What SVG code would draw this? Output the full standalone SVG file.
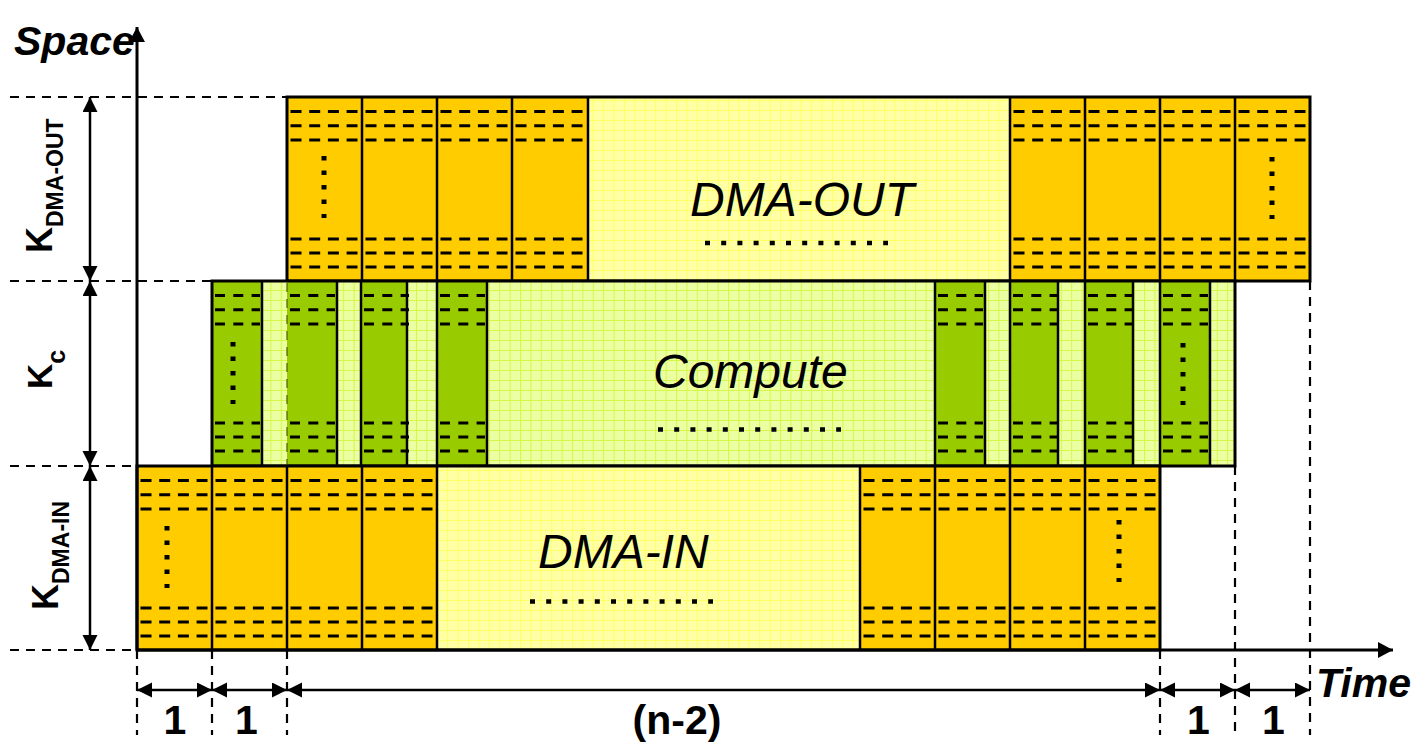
<svg xmlns="http://www.w3.org/2000/svg" width="1418" height="743" viewBox="0 0 1418 743">
<style>
.bg{fill:#FFFFFF}
.org{fill:#FFCC00}
.grn{fill:#99CC00}
.ly{fill:url(#gy)}
.lg{fill:url(#gg)}
.bd{fill:none;stroke:#000;stroke-width:3}
.dv{stroke:#000;stroke-width:2.5}
.dash{stroke:#000;stroke-width:3;stroke-dasharray:11 7.7}
.dashg{stroke:#000;stroke-width:3;stroke-dasharray:10 8.3}
.vdots{stroke:#000;stroke-width:5;stroke-dasharray:4.5 10}
.hdots{stroke:#000;stroke-width:4.5;stroke-dasharray:5 11.2}
.guide{stroke:#000;stroke-width:2.2;stroke-dasharray:9 7;fill:none}
.axis{stroke:#000;stroke-width:3;fill:none}
.dim{stroke:#000;stroke-width:2.5;fill:none;marker-start:url(#ah);marker-end:url(#ah)}
.big{font-family:"Liberation Sans",Arial,sans-serif;font-style:italic;font-size:48px;fill:#000}
.ax{font-family:"Liberation Sans",Arial,sans-serif;font-style:italic;font-weight:bold;font-size:41px;fill:#000}
.lbl{font-family:"Liberation Sans",Arial,sans-serif;font-weight:bold;fill:#000}
</style>
<defs>
<pattern id="gy" width="10.4" height="10" patternUnits="userSpaceOnUse">
<rect width="10.4" height="10" fill="#FFFFA6"/>
<path d="M0 0.5H10.4M0.5 0V10" stroke="#FFFF66" stroke-width="1"/>
</pattern>
<pattern id="gg" width="10.4" height="10" patternUnits="userSpaceOnUse">
<rect width="10.4" height="10" fill="#EBFFA3"/>
<path d="M0 0.5H10.4M0.5 0V10" stroke="#D8F64A" stroke-width="1"/>
</pattern>
<marker id="ah" markerUnits="userSpaceOnUse" markerWidth="16" markerHeight="16" refX="15" refY="7.5" orient="auto-start-reverse">
<path d="M0,0 L15,7.5 L0,15 Z" fill="#000"/>
</marker>
<marker id="axh" markerUnits="userSpaceOnUse" markerWidth="17" markerHeight="17" refX="15" refY="8" orient="auto">
<path d="M0,0 L15,8 L0,16 Z" fill="#000"/>
</marker>
<g id="do">
<line class="dash" x1="0" x2="67" y1="14.5" y2="14.5"/>
<line class="dash" x1="0" x2="67" y1="28.75" y2="28.75"/>
<line class="dash" x1="0" x2="67" y1="43" y2="43"/>
<line class="dash" x1="0" x2="67" y1="142" y2="142"/>
<line class="dash" x1="0" x2="67" y1="156" y2="156"/>
<line class="dash" x1="0" x2="67" y1="170" y2="170"/>
</g>
<g id="dg">
<line class="dashg" x1="0" x2="45" y1="14.5" y2="14.5"/>
<line class="dashg" x1="0" x2="45" y1="28.75" y2="28.75"/>
<line class="dashg" x1="0" x2="45" y1="43" y2="43"/>
<line class="dashg" x1="0" x2="45" y1="142" y2="142"/>
<line class="dashg" x1="0" x2="45" y1="156" y2="156"/>
<line class="dashg" x1="0" x2="45" y1="170" y2="170"/>
</g>
<line id="vd" class="vdots" x1="0" y1="0" x2="0" y2="62"/>
</defs>
<rect class="bg" x="0" y="0" width="1418" height="743"/>

<g id="guides">
<line class="guide" x1="10" y1="97" x2="287" y2="97"/>
<line class="guide" x1="10" y1="281" x2="212" y2="281"/>
<line class="guide" x1="10" y1="466" x2="137" y2="466"/>
<line class="guide" x1="10" y1="650" x2="137" y2="650"/>
<line class="guide" x1="137" y1="650" x2="137" y2="735"/>
<line class="guide" x1="212" y1="650" x2="212" y2="735"/>
<line class="guide" x1="287" y1="650" x2="287" y2="735"/>
<line class="guide" x1="1160" y1="650" x2="1160" y2="735"/>
<line class="guide" x1="1235" y1="466" x2="1235" y2="735"/>
<line class="guide" x1="1310" y1="281" x2="1310" y2="735"/>
</g>

<g id="dma-out">
<rect class="org" x="287" y="97" width="301" height="184"/>
<rect class="org" x="1010" y="97" width="300" height="184"/>
<rect class="ly" x="588" y="97" width="422" height="184"/>
<use href="#do" x="290.5" y="97"/>
<use href="#do" x="365.5" y="97"/>
<use href="#do" x="440.5" y="97"/>
<use href="#do" x="515.5" y="97"/>
<use href="#do" x="1013.5" y="97"/>
<use href="#do" x="1088.5" y="97"/>
<use href="#do" x="1163.5" y="97"/>
<use href="#do" x="1238.5" y="97"/>
<use href="#vd" x="324" y="156"/>
<use href="#vd" x="1272" y="157"/>
<line class="dv" x1="362" y1="97" x2="362" y2="281"/>
<line class="dv" x1="437" y1="97" x2="437" y2="281"/>
<line class="dv" x1="512" y1="97" x2="512" y2="281"/>
<line class="dv" x1="588" y1="97" x2="588" y2="281"/>
<line class="dv" x1="1010" y1="97" x2="1010" y2="281"/>
<line class="dv" x1="1085" y1="97" x2="1085" y2="281"/>
<line class="dv" x1="1160" y1="97" x2="1160" y2="281"/>
<line class="dv" x1="1235" y1="97" x2="1235" y2="281"/>
<rect class="bd" x="287" y="97" width="1023" height="184"/>
<text class="big" x="690" y="215.5">DMA-OUT</text>
<line class="hdots" x1="705" y1="243" x2="888" y2="243"/>
</g>

<g id="compute">
<rect class="lg" x="212" y="281" width="1023" height="185"/>
<rect class="grn" x="212" y="281" width="50" height="185"/>
<rect class="grn" x="287" y="281" width="50" height="185"/>
<rect class="grn" x="361" y="281" width="46" height="185"/>
<rect class="grn" x="437" y="281" width="50" height="185"/>
<rect class="grn" x="935" y="281" width="50" height="185"/>
<rect class="grn" x="1010" y="281" width="48" height="185"/>
<rect class="grn" x="1085" y="281" width="48" height="185"/>
<rect class="grn" x="1160" y="281" width="50" height="185"/>
<line x1="287" y1="283" x2="287" y2="464" stroke="#4d5c00" stroke-opacity="0.6" stroke-width="2" stroke-dasharray="9 7"/>
<use href="#dg" x="215" y="281"/>
<use href="#dg" x="290" y="281"/>
<use href="#dg" x="364" y="281"/>
<use href="#dg" x="440" y="281"/>
<use href="#dg" x="938" y="281"/>
<use href="#dg" x="1013" y="281"/>
<use href="#dg" x="1088" y="281"/>
<use href="#dg" x="1163" y="281"/>
<use href="#vd" x="233" y="342"/>
<use href="#vd" x="1183" y="343"/>
<line class="dv" x1="262" y1="281" x2="262" y2="466"/>
<line class="dv" x1="337" y1="281" x2="337" y2="466"/>
<line class="dv" x1="361" y1="281" x2="361" y2="466"/>
<line class="dv" x1="407" y1="281" x2="407" y2="466"/>
<line class="dv" x1="437" y1="281" x2="437" y2="466"/>
<line class="dv" x1="487" y1="281" x2="487" y2="466"/>
<line class="dv" x1="935" y1="281" x2="935" y2="466"/>
<line class="dv" x1="985" y1="281" x2="985" y2="466"/>
<line class="dv" x1="1010" y1="281" x2="1010" y2="466"/>
<line class="dv" x1="1058" y1="281" x2="1058" y2="466"/>
<line class="dv" x1="1085" y1="281" x2="1085" y2="466"/>
<line class="dv" x1="1133" y1="281" x2="1133" y2="466"/>
<line class="dv" x1="1160" y1="281" x2="1160" y2="466"/>
<line class="dv" x1="1210" y1="281" x2="1210" y2="466"/>
<rect class="bd" x="212" y="281" width="1023" height="185"/>
<text class="big" x="653" y="388">Compute</text>
<line class="hdots" x1="658" y1="429.5" x2="841" y2="429.5"/>
</g>

<g id="dma-in">
<rect class="org" x="137" y="466" width="300" height="184"/>
<rect class="org" x="860" y="466" width="300" height="184"/>
<rect class="ly" x="437" y="466" width="423" height="184"/>
<use href="#do" x="140.5" y="466"/>
<use href="#do" x="215.5" y="466"/>
<use href="#do" x="290.5" y="466"/>
<use href="#do" x="365.5" y="466"/>
<use href="#do" x="863.5" y="466"/>
<use href="#do" x="938.5" y="466"/>
<use href="#do" x="1013.5" y="466"/>
<use href="#do" x="1088.5" y="466"/>
<use href="#vd" x="167" y="526"/>
<use href="#vd" x="1119" y="520"/>
<line class="dv" x1="212" y1="466" x2="212" y2="650"/>
<line class="dv" x1="287" y1="466" x2="287" y2="650"/>
<line class="dv" x1="362" y1="466" x2="362" y2="650"/>
<line class="dv" x1="437" y1="466" x2="437" y2="650"/>
<line class="dv" x1="860" y1="466" x2="860" y2="650"/>
<line class="dv" x1="935" y1="466" x2="935" y2="650"/>
<line class="dv" x1="1010" y1="466" x2="1010" y2="650"/>
<line class="dv" x1="1085" y1="466" x2="1085" y2="650"/>
<rect class="bd" x="137" y="466" width="1023" height="184"/>
<text class="big" x="538" y="568">DMA-IN</text>
<line class="hdots" x1="530" y1="601.5" x2="713" y2="601.5"/>
</g>

<g id="axes">
<line class="axis" x1="137" y1="650" x2="137" y2="27" marker-end="url(#axh)"/>
<line class="axis" x1="137" y1="650" x2="1393" y2="650" marker-end="url(#axh)"/>
<text class="ax" x="14" y="55">Space</text>
<text class="ax" x="1316" y="697">Time</text>
</g>

<g id="connectors">
<line class="dim" x1="90" y1="97" x2="90" y2="281"/>
<line class="dim" x1="90" y1="281" x2="90" y2="466"/>
<line class="dim" x1="90" y1="466" x2="90" y2="650"/>
<line class="dim" x1="137" y1="690" x2="212" y2="690"/>
<line class="dim" x1="212" y1="690" x2="287" y2="690"/>
<line class="dim" x1="287" y1="690" x2="1160" y2="690"/>
<line class="dim" x1="1160" y1="690" x2="1235" y2="690"/>
<line class="dim" x1="1235" y1="690" x2="1310" y2="690"/>
</g>

<g id="labels">
<text class="lbl" font-size="36" transform="translate(52,253) rotate(-90)">K<tspan font-size="23" dy="11">DMA-OUT</tspan></text>
<text class="lbl" font-size="35" transform="translate(52,389) rotate(-90)">K<tspan font-size="25" dy="13">c</tspan></text>
<text class="lbl" font-size="36" transform="translate(58,610) rotate(-90)">K<tspan font-size="23" dy="11">DMA-IN</tspan></text>
<text class="lbl" font-size="41" x="175" y="734" text-anchor="middle">1</text>
<text class="lbl" font-size="41" x="246.5" y="734" text-anchor="middle">1</text>
<text class="lbl" font-size="41" x="677" y="734" text-anchor="middle">(n-2)</text>
<text class="lbl" font-size="41" x="1198.5" y="734" text-anchor="middle">1</text>
<text class="lbl" font-size="41" x="1273.5" y="734" text-anchor="middle">1</text>
</g>
</svg>
